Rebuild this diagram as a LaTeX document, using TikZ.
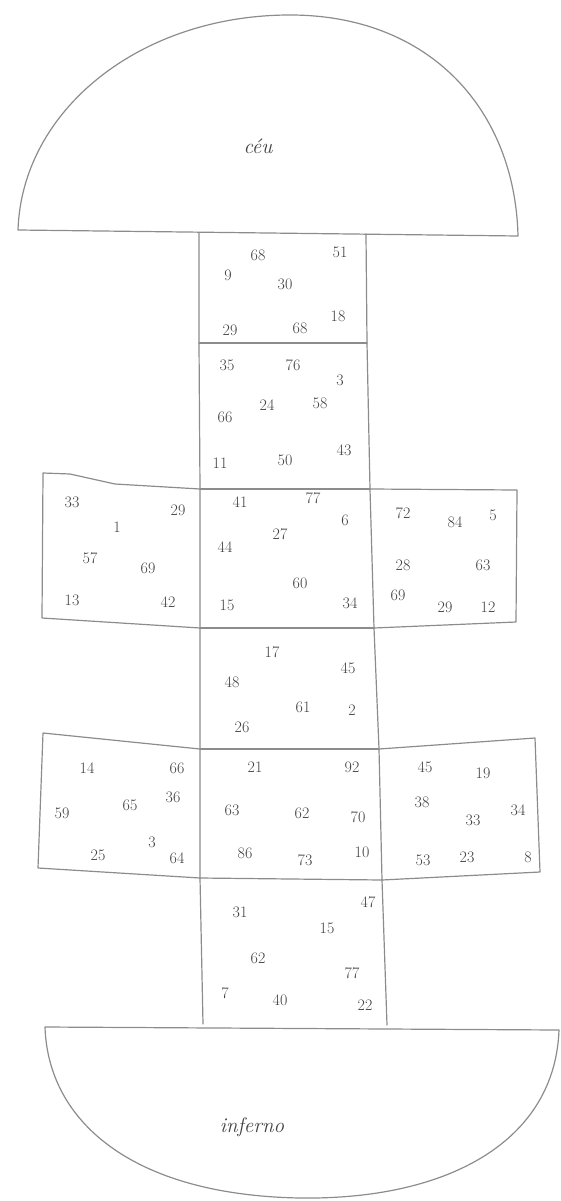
\documentclass[tikz,border=0pt]{standalone}
\begin{document}
\begin{tikzpicture}[x=1pt, y=-1pt, line join=round, line cap=round]

  % Styles
  \tikzset{
    pencil/.style={draw=black!45, line width=1.2pt},
    num/.style={font=\fontsize{16}{16}\selectfont, text=black!75, inner sep=1pt},
    place/.style={font=\fontsize{21}{21}\selectfont\itshape, text=black!75}
  }

  \useasboundingbox (0,0) rectangle (560,1201);

  % --- CEU (top dome) ---
  \draw[pencil] (18,230) .. controls (22,110) and (140,15) .. (290,15)
    .. controls (430,15) and (515,110) .. (518,236) -- cycle;
  \node[place] (ceu) at (258,146) {céu};

  % --- INFERNO (bottom dome) ---
  \draw[pencil] (45,1027) .. controls (48,1120) and (130,1195) .. (300,1198)
    .. controls (450,1200) and (555,1140) .. (559,1030) -- cycle;
  \node[place] (inferno) at (252,1127) {inferno};

  % --- Column corners ---
  \coordinate (L0) at (199,233);  \coordinate (R0) at (366,234);
  \coordinate (L1) at (199,343);  \coordinate (R1) at (367,343);
  \coordinate (L2) at (200,489);  \coordinate (R2) at (370,489);
  \coordinate (L3) at (200,628);  \coordinate (R3) at (374,628);
  \coordinate (L4) at (200,749);  \coordinate (R4) at (379,749);
  \coordinate (L5) at (200,878);  \coordinate (R5) at (382,880);
  \coordinate (L6) at (203,1024); \coordinate (R6) at (387,1025);

  % Column
  \draw[pencil] (L0) -- (L1) -- (L2) -- (L3) -- (L4) -- (L5) -- (L6);
  \draw[pencil] (R0) -- (R1) -- (R2) -- (R3) -- (R4) -- (R5) -- (R6);
  \draw[pencil] (L1) -- (R1);
  \draw[pencil] (L2) -- (R2);
  \draw[pencil] (L3) -- (R3);
  \draw[pencil] (L4) -- (R4);
  \draw[pencil] (L5) -- (R5);

  % Side squares, row 3
  \draw[pencil] (L2) -- (115,484) -- (70,474) -- (43,473) -- (42,618) -- (L3);
  \draw[pencil] (R2) -- (517,490) -- (516,622) -- (R3);

  % Side squares, row 5
  \draw[pencil] (L4) -- (43,733) -- (38,868) -- (L5);
  \draw[pencil] (R4) -- (535,738) -- (540,872) -- (R5);

  % --- Square 1 ---
  \node[num] (s1a) at (228,275) {9};
  \node[num] (s1b) at (258,255) {68};
  \node[num] (s1c) at (340,252) {51};
  \node[num] (s1d) at (285,284) {30};
  \node[num] (s1e) at (338,316) {18};
  \node[num] (s1f) at (230,330) {29};
  \node[num] (s1g) at (300,328) {68};

  % --- Square 2 ---
  \node[num] (s2a) at (227,365) {35};
  \node[num] (s2b) at (293,365) {76};
  \node[num] (s2c) at (340,380) {3};
  \node[num] (s2d) at (225,417) {66};
  \node[num] (s2e) at (267,405) {24};
  \node[num] (s2f) at (320,403) {58};
  \node[num] (s2g) at (220,463) {11};
  \node[num] (s2h) at (285,460) {50};
  \node[num] (s2i) at (344,450) {43};

  % --- Row 3, left ---
  \node[num] (s3a) at (72,502) {33};
  \node[num] (s3b) at (178,510) {29};
  \node[num] (s3c) at (117,527) {1};
  \node[num] (s3d) at (90,558) {57};
  \node[num] (s3e) at (148,568) {69};
  \node[num] (s3f) at (72,600) {13};
  \node[num] (s3g) at (168,602) {42};

  % --- Row 3, middle ---
  \node[num] (s4a) at (240,502) {41};
  \node[num] (s4b) at (313,498) {77};
  \node[num] (s4c) at (345,520) {6};
  \node[num] (s4d) at (225,547) {44};
  \node[num] (s4e) at (280,534) {27};
  \node[num] (s4f) at (300,583) {60};
  \node[num] (s4g) at (227,605) {15};
  \node[num] (s4h) at (350,603) {34};

  % --- Row 3, right ---
  \node[num] (s5a) at (403,513) {72};
  \node[num] (s5b) at (455,522) {84};
  \node[num] (s5c) at (493,515) {5};
  \node[num] (s5d) at (403,565) {28};
  \node[num] (s5e) at (483,565) {63};
  \node[num] (s5f) at (398,595) {69};
  \node[num] (s5g) at (445,607) {29};
  \node[num] (s5h) at (488,607) {12};

  % --- Square 4 ---
  \node[num] (s6a) at (272,652) {17};
  \node[num] (s6b) at (348,668) {45};
  \node[num] (s6c) at (232,682) {48};
  \node[num] (s6d) at (303,707) {61};
  \node[num] (s6e) at (352,710) {2};
  \node[num] (s6f) at (242,727) {26};

  % --- Row 5, left ---
  \node[num] (s7a) at (87,768) {14};
  \node[num] (s7b) at (177,768) {66};
  \node[num] (s7c) at (62,813) {59};
  \node[num] (s7d) at (130,805) {65};
  \node[num] (s7e) at (173,797) {36};
  \node[num] (s7f) at (98,855) {25};
  \node[num] (s7g) at (152,842) {3};
  \node[num] (s7h) at (177,858) {64};

  % --- Row 5, middle ---
  \node[num] (s8a) at (255,767) {21};
  \node[num] (s8b) at (352,767) {92};
  \node[num] (s8c) at (232,810) {63};
  \node[num] (s8d) at (302,813) {62};
  \node[num] (s8e) at (358,817) {70};
  \node[num] (s8f) at (245,853) {86};
  \node[num] (s8g) at (305,860) {73};
  \node[num] (s8h) at (362,852) {10};

  % --- Row 5, right ---
  \node[num] (s9a) at (425,767) {45};
  \node[num] (s9b) at (483,773) {19};
  \node[num] (s9c) at (422,802) {38};
  \node[num] (s9d) at (473,820) {33};
  \node[num] (s9e) at (518,810) {34};
  \node[num] (s9f) at (423,860) {53};
  \node[num] (s9g) at (467,857) {23};
  \node[num] (s9h) at (528,857) {8};

  % --- Square 6 ---
  \node[num] (s10a) at (240,912) {31};
  \node[num] (s10b) at (368,902) {47};
  \node[num] (s10c) at (327,928) {15};
  \node[num] (s10d) at (258,958) {62};
  \node[num] (s10e) at (352,973) {77};
  \node[num] (s10f) at (225,993) {7};
  \node[num] (s10g) at (280,1000) {40};
  \node[num] (s10h) at (365,1005) {22};

\end{tikzpicture}
\end{document}
